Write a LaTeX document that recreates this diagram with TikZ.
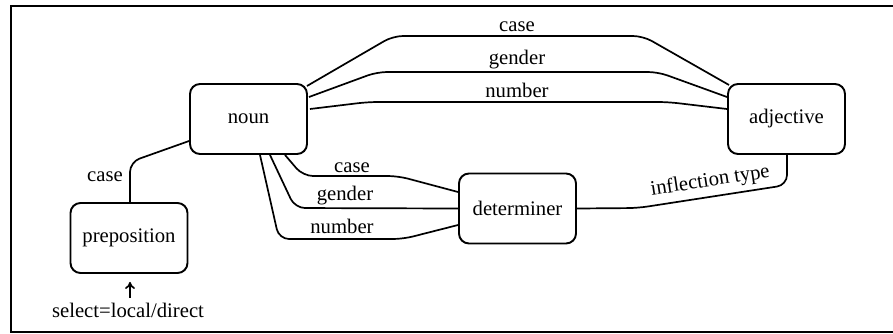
\documentclass[tikz,border=0pt]{standalone}
\usepackage{fontspec}
\setmainfont{Liberation Serif}
\usetikzlibrary{calc,arrows.meta}
\begin{document}
\begin{tikzpicture}[x=0.5pt,y=-0.5pt,
  font=\fontsize{10.35}{12}\selectfont,
  box/.style={draw, line width=0.95pt, rounded corners=5pt, minimum width=58.5pt, minimum height=35pt, inner sep=0pt},
  link/.style={line width=0.85pt, rounded corners=5pt},
  lbl/.style={anchor=base, inner sep=0pt}]
\useasboundingbox (0,0) rectangle (893,333);
\draw[line width=1pt] (905,6) -- (10.5,6) -- (10.5,331.5) -- (905,331.5);

\node[box] (noun) at (248.5,119) {noun};
\node[box] (adj) at (786.5,119) {adjective};
\node[box] (prep) at (129,238) {preposition};
\node[box] (det) at (517.5,208.5) {determiner};

% noun - adjective
\draw[link] ($(noun.east)+(-1,-33)$) -- (393,36) -- (643,36) -- ($(adj.west)+(2,-34)$);
\draw[link] ($(noun.east)+(1,-22)$) -- (377,72) -- (658,72) -- ($(adj.west)+(0,-22)$);
\draw[link] ($(noun.east)+(2,-10)$) -- (368,102) -- (668,102) -- ($(adj.west)+(0,-10)$);
\node[lbl] (l1) at (517,31) {case};
\node[lbl] (l2) at (517,64) {gender};
\node[lbl] (l3) at (517,97) {number};

% noun - determiner
\draw[link] ($(noun.south)+(36.5,0)$) -- (303,176) -- (398,176) -- ($(det.west)+(0,-16.5)$);
\draw[link] ($(noun.south)+(21.5,0)$) -- (295,208) -- (det.west);
\draw[link] ($(noun.south)+(11.5,0)$) -- (279,239) -- (403,239) -- ($(det.west)+(0,16.5)$);
\node[lbl] (l4) at (352,172) {case};
\node[lbl] (l5) at (345,200) {gender};
\node[lbl] (l6) at (342,233) {number};

% preposition - noun
\draw[link] (prep.north -| 130,0) -- (130,162) -- ($(noun.west)+(0,22)$);
\node[lbl] (l7) at (105,181) {case};

% determiner - adjective
\draw[link] (det.east) -- (638,208) -- node[sloped, above, inner sep=2.5pt] (l8) {inflection type} (787,185) -- (adj.south -| 787,0);

% select arrow
\node[lbl] (sel) at (128,317) {select=local/direct};
\coordinate (arrs) at ($(prep.south)+(1,24)$);
\coordinate (arre) at ($(prep.south)+(1,8)$);
\draw[line width=0.85pt, -{To[length=3.5pt,width=5pt]}] (arrs) -- (arre);
\end{tikzpicture}
\end{document}
